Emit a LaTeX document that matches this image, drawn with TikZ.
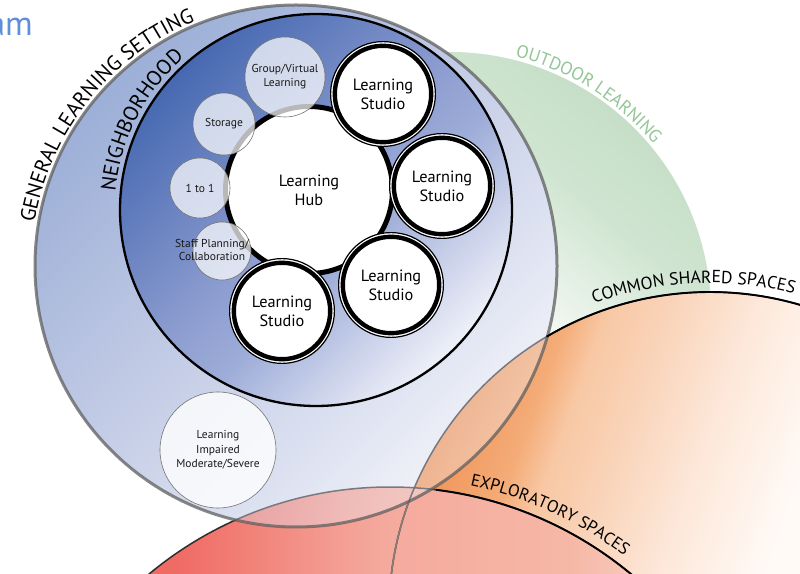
\documentclass[tikz,border=0pt]{standalone}
\usepackage{fontspec}
\setmainfont{PT Sans}
\usetikzlibrary{decorations.text}

\definecolor{gA}{RGB}{241,242,248}
\definecolor{gB}{RGB}{220,225,241}
\definecolor{gC}{RGB}{194,203,229}
\definecolor{gD}{RGB}{170,185,220}
\definecolor{gE}{RGB}{156,175,215}
\definecolor{nA}{RGB}{238,240,248}
\definecolor{nB}{RGB}{205,212,235}
\definecolor{nC}{RGB}{157,172,216}
\definecolor{nD}{RGB}{141,157,208}
\definecolor{nE}{RGB}{70,104,177}
\definecolor{grA}{RGB}{238,245,238}
\definecolor{grB}{RGB}{208,229,209}
\definecolor{grC}{RGB}{198,222,199}
\definecolor{oA}{RGB}{255,250,246}
\definecolor{oB}{RGB}{253,232,218}
\definecolor{oC}{RGB}{249,211,184}
\definecolor{oD}{RGB}{248,200,164}
\definecolor{oE}{RGB}{244,172,120}
\definecolor{oF}{RGB}{240,145,85}
\definecolor{rA}{RGB}{250,212,198}
\definecolor{rB}{RGB}{248,200,185}
\definecolor{rC}{RGB}{246,184,166}
\definecolor{rD}{RGB}{245,170,158}
\definecolor{rE}{RGB}{244,161,150}
\definecolor{rF}{RGB}{239,109,102}
\definecolor{rG}{RGB}{236,92,90}
\definecolor{amblue}{RGB}{95,143,214}
\definecolor{outgreen}{RGB}{147,198,151}
\definecolor{glsline}{RGB}{95,95,95}

\pgfdeclareverticalshading{glsShade}{100bp}{color(0bp)=(gA); color(26bp)=(gA); color(37bp)=(gB); color(53bp)=(gC); color(66.5bp)=(gD); color(75bp)=(gE); color(100bp)=(gE)}
\pgfdeclareverticalshading{nbhShade}{100bp}{color(0bp)=(nA); color(25.5bp)=(nA); color(33bp)=(nB); color(43.5bp)=(nC); color(51.5bp)=(nD); color(75bp)=(nE); color(100bp)=(nE)}
\pgfdeclareverticalshading{greenShade}{100bp}{color(0bp)=(white); color(50bp)=(white); color(56.5bp)=(grA); color(66.5bp)=(grB); color(75bp)=(grC); color(100bp)=(grC)}
\pgfdeclareverticalshading{orangeShade}{100bp}{color(0bp)=(white); color(47bp)=(oA); color(54.6bp)=(oB); color(61.25bp)=(oC); color(65.5bp)=(oD); color(68.3bp)=(oE); color(75bp)=(oF); color(100bp)=(oF)}
\pgfdeclareverticalshading{redShade}{100bp}{color(0bp)=(rA); color(34bp)=(rB); color(38bp)=(rC); color(50bp)=(rD); color(52.6bp)=(rE); color(63.7bp)=(rF); color(75bp)=(rG); color(100bp)=(rG)}

\newcommand\stfont{\fontsize{16.3}{19}\selectfont}
\newcommand\smfont{\fontsize{11.5}{13.8}\selectfont}
\newcommand\lifont{\fontsize{11.5}{14.5}\selectfont}
\newcommand\lblGls{\fontsize{21}{21}\selectfont}
\newcommand\lblNbh{\fontsize{21}{21}\selectfont}
\newcommand\lblOut{\fontsize{18}{18}\selectfont}
\newcommand\lblCom{\fontsize{17.5}{17.5}\selectfont}
\newcommand\lblExp{\fontsize{17}{17}\selectfont}
\newcommand\amfont{\fontsize{34}{34}\selectfont}

\begin{document}
\begin{tikzpicture}[x=1pt,y=1pt,
  studio/.style={circle, draw=black, line width=4.4pt, fill=white, minimum size=96.4pt, inner sep=0pt, align=center, font=\stfont},
  studioring/.style={draw=black, line width=1.2pt, fill=white},
  hubnode/.style={circle, draw=black, line width=5pt, fill=white, minimum size=167pt, inner sep=0pt, align=center, font=\stfont},
  smallc/.style={circle, draw=black!55, line width=0.6pt, fill=white, fill opacity=0.72, text opacity=1, inner sep=0pt, align=center, font=\smfont, text=black!90},
  edgeD/.style={draw=black!82, line width=1.5pt},
  edgeR/.style={draw={rgb,255:red,140;green,124;blue,120}, line width=1.5pt},
  edgeL/.style={draw={rgb,255:red,120;green,120;blue,128}, line width=1.5pt},
  labelarc/.style={draw=black, line width=1.9pt},
  arclabel/.style={decorate, decoration={text along path, text align=center, #1}}
]
\useasboundingbox (0,0) rectangle (800,573);
\fill[white] (0,0) rectangle (800,573);
\clip (0,0) rectangle (800,573);

\coordinate (glsc) at (296,307);
\coordinate (grc) at (450,260);
\coordinate (orc) at (710,-40);
\coordinate (rdc) at (390,-291);
\coordinate (nbc) at (316,363);

% outdoor learning (green)
\begin{scope}
  \clip (grc) circle (261pt);
  \begin{scope}[transform canvas={rotate around={-40:(450,260)}}]
    \shade[shading=greenShade] (188,-2) rectangle (712,522);
  \end{scope}
\end{scope}

% common shared spaces (orange)
\begin{scope}
  \clip (orc) circle (321pt);
  \begin{scope}[transform canvas={rotate around={70:(710,-40)}}]
    \shade[shading=orangeShade] (388,-362) rectangle (1032,282);
  \end{scope}
\end{scope}

% exploratory spaces (red)
\begin{scope}
  \clip (rdc) circle (377pt);
  \begin{scope}[transform canvas={rotate around={90:(390,-291)}}]
    \shade[shading=redShade] (12,-669) rectangle (768,87);
  \end{scope}
\end{scope}

% general learning setting fill: opaque outside orange/red
\begin{scope}[even odd rule]
  \clip (-1000,-1000) rectangle (1500,1000) (orc) circle (321pt);
  \clip (-1000,-1000) rectangle (1500,1000) (rdc) circle (377pt);
  \clip (glsc) circle (261pt);
  \begin{scope}[transform canvas={rotate around={45:(296,307)}}]
    \shade[shading=glsShade] (34,45) rectangle (558,569);
  \end{scope}
\end{scope}
% translucent inside orange
\begin{scope}
  \clip (orc) circle (321pt);
  \clip (glsc) circle (261pt);
  \begin{scope}[transform canvas={rotate around={45:(296,307)}}]
    \shade[shading=glsShade, opacity=0.37] (34,45) rectangle (558,569);
  \end{scope}
\end{scope}
% translucent inside red, outside orange
\begin{scope}[even odd rule]
  \clip (-1000,-1000) rectangle (1500,1000) (orc) circle (321pt);
  \clip (rdc) circle (377pt);
  \clip (glsc) circle (261pt);
  \begin{scope}[transform canvas={rotate around={45:(296,307)}}]
    \shade[shading=glsShade, opacity=0.37] (34,45) rectangle (558,569);
  \end{scope}
\end{scope}

% edges of orange and red circles
\begin{scope}[even odd rule]
  \clip (-1000,-1000) rectangle (1500,1000) (glsc) circle (261pt);
  \draw[edgeD] (orc) circle (321pt);
  \draw[edgeD] (rdc) circle (377pt);
  \clip (rdc) circle (377pt);
  \draw[edgeR] (orc) circle (321pt);
\end{scope}
\begin{scope}
  \clip (glsc) circle (261pt);
  \draw[edgeL] (orc) circle (321pt);
  \draw[edgeL] (rdc) circle (377pt);
\end{scope}

% general learning setting outline
\draw[draw=glsline, draw opacity=0.75, line width=3pt] (glsc) circle (261pt);

% black label arcs
\draw[labelarc] ([shift={(120.6:321)}]orc) arc[start angle=120.6, end angle=55, radius=321];
\draw[labelarc] ([shift={(83:377)}]rdc) arc[start angle=83, end angle=40, radius=377];

% neighborhood
\begin{scope}
  \clip (nbc) circle (196pt);
  \begin{scope}[transform canvas={rotate around={45:(316,363)}}]
    \shade[shading=nbhShade] (119,166) rectangle (513,560);
  \end{scope}
\end{scope}
\draw[black, line width=2.3pt] (nbc) circle (196pt);

% learning hub
\node[hubnode] (hub) at (309,383) {Learning\\Hub};

% learning studios
\coordinate (s1c) at (383,479);
\coordinate (s2c) at (442,387);
\coordinate (s3c) at (391,288);
\coordinate (s4c) at (282,262);
\draw[studioring] (s1c) circle (52.4pt);
\draw[studioring] (s2c) circle (52.4pt);
\draw[studioring] (s3c) circle (52.4pt);
\draw[studioring] (s4c) circle (52.4pt);
\node[studio] (s1) at (s1c) {Learning\\Studio};
\node[studio] (s2) at (s2c) {Learning\\Studio};
\node[studio] (s3) at (s3c) {Learning\\Studio};
\node[studio] (s4) at (s4c) {Learning\\Studio};

% small spaces
\node[smallc, minimum size=80pt] (gv) at (285,496) {Group/Virtual\\Learning};
\node[smallc, minimum size=62pt] (st) at (224,449) {Storage};
\node[smallc, minimum size=60pt] (oo) at (200,385) {1 to 1};
\node[smallc, minimum size=58pt] (sp) at (222,322) {};
\node[align=center, font=\smfont, text=black!90, inner sep=0pt] (spt) at (212,323) {Staff Planning/\\Collaboration};
\node[smallc, minimum size=116pt, fill opacity=0.8, font=\lifont] (li) at (218,123) {Learning\\Impaired\\Moderate/Severe};

% curved labels
\path[arclabel={text={|\lblGls|GENERAL LEARNING SETTING}}] ([shift={(181.5:265)}]glsc) arc[start angle=181.5, end angle=101.5, radius=265];
\path[arclabel={text={|\lblNbh|NEIGHBORHOOD}}] ([shift={(192.7:201.5)}]nbc) arc[start angle=192.7, end angle=112.7, radius=201.5];
\path[arclabel={text={|\lblOut|OUTDOOR LEARNING}, text color=outgreen}] ([shift={(97.7:264.5)}]grc) arc[start angle=97.7, end angle=17.7, radius=264.5];
\path[arclabel={text={|\lblCom|COMMON SHARED SPACES}}] ([shift={(122.9:330)}]orc) arc[start angle=122.9, end angle=62.9, radius=330];
\path[arclabel={text={|\lblExp|EXPLORATORY SPACES}}] ([shift={(95.4:387)}]rdc) arc[start angle=95.4, end angle=35.4, radius=387];

% title fragment
\node[anchor=base east, inner sep=0pt, font=\amfont, text=amblue] (am) at (33,537) {am};
\end{tikzpicture}
\end{document}
